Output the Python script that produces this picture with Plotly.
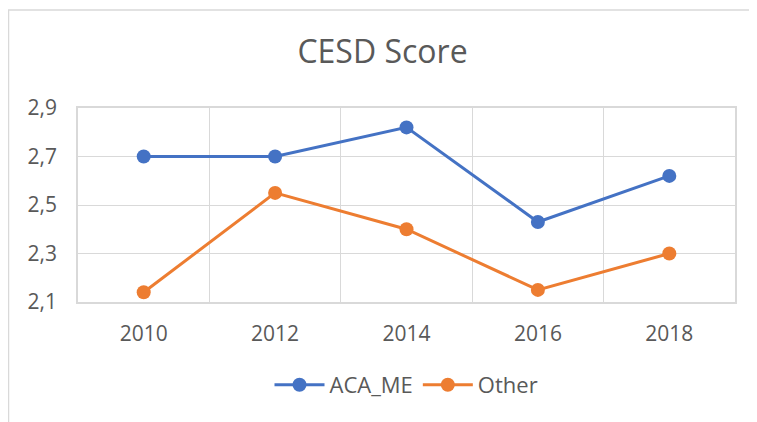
import plotly.graph_objects as go

years = ["2010", "2012", "2014", "2016", "2018"]
aca_me = [2.70, 2.70, 2.82, 2.43, 2.62]
other = [2.14, 2.55, 2.40, 2.15, 2.30]
y_ticks = [2.1, 2.3, 2.5, 2.7, 2.9]

# page has an 8px body margin; figure sized to fill the rest of the window
W, H = 749, 414
L, R, T, B = 70, 22, 100, 120
pw, ph = W - L - R, H - T - B

fig = go.Figure()
fig.add_trace(go.Scatter(x=years, y=aca_me, name="ACA_ME", mode="lines+markers",
                         line=dict(color="#4472C4", width=3),
                         marker=dict(size=14, color="#4472C4")))
fig.add_trace(go.Scatter(x=years, y=other, name="Other", mode="lines+markers",
                         line=dict(color="#ED7D31", width=3),
                         marker=dict(size=14, color="#ED7D31")))

def px_x(x):
    return (x - L) / pw

def px_y(y):
    return (H - B - y) / ph

fig.add_shape(type="rect", xref="paper", yref="paper",
              x0=px_x(0.5), x1=px_x(760), y0=px_y(430), y1=px_y(2),
              line=dict(color="#D9D9D9", width=1.5), fillcolor="rgba(0,0,0,0)", layer="below")

fig.update_layout(
    width=W, height=H,
    margin=dict(l=L, r=R, t=T, b=B),
    paper_bgcolor="white", plot_bgcolor="white",
    separators=",.",
    font=dict(family="Open Sans", color="#595959", size=21),
    title=dict(text="CESD Score", x=0.5, xanchor="center", y=1 - 44 / H, yanchor="middle",
               font=dict(size=32, color="#595959", family="Open Sans")),
    showlegend=True,
    legend=dict(orientation="h", x=0.5, xanchor="center", y=px_y(377), yanchor="middle",
                font=dict(size=22, color="#595959"), itemwidth=50),
    xaxis=dict(type="category", range=[-0.5, 4.5], tickson="boundaries", showgrid=True,
               gridcolor="#D9D9D9", gridwidth=1, ticks="", showline=True, linecolor="#D9D9D9",
               linewidth=1.5, mirror=True, tickfont=dict(size=21, color="#595959"),
               ticklabelstandoff=12),
    yaxis=dict(range=[2.1, 2.9], tickvals=y_ticks, tickformat=".1f", showgrid=True,
               gridcolor="#D9D9D9", gridwidth=1, zeroline=False, showline=True,
               linecolor="#D9D9D9", linewidth=1.5, mirror=True, ticks="",
               tickfont=dict(size=21, color="#595959"), ticklabelstandoff=15),
)

fig.write_html("out.html")
